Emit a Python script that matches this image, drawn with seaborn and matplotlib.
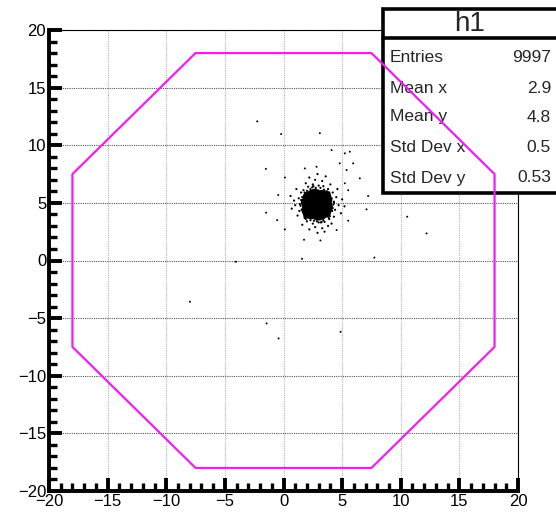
#h1 scatter with octagon cut

import matplotlib.pyplot as plt
from matplotlib.patches import Rectangle
from matplotlib.ticker import MultipleLocator
import seaborn as sns

# -----------------------------------------
# Data
# -----------------------------------------

# dense core of the cluster (around mean x 2.9, mean y 4.8)
core_x = [2.85, 2.4, 3.3, 2.6, 3.1, 2.6, 3.1, 2.05, 3.65, 2.2, 3.5, 2.2, 3.5,
          2.85, 2.85, 2.4, 3.3, 2.4, 3.3, 1.95, 3.75, 2.0, 3.7, 2.65, 3.05,
          2.75, 2.95, 3.6, 2.1, 3.6, 2.1, 2.9]
core_y = [4.85, 4.9, 4.8, 5.3, 5.35, 4.4, 4.35, 4.7, 4.95, 5.25, 5.35, 4.35, 4.4,
          5.7, 4.0, 5.65, 5.65, 4.05, 4.05, 5.05, 4.6, 4.4, 5.25, 5.75, 3.95,
          4.6, 5.1, 4.2, 5.5, 5.6, 4.1, 3.95]

# sparse halo round the core
halo_x = [2.1, 2.5, 3.0, 3.4, 3.8, 1.7, 2.7, 3.3, 1.9, 4.0, 2.2, 3.6, 2.9,
          4.3, 4.5, 4.4, 4.7, 4.2, 4.6, 5.0, 4.9, 4.3, 5.2,
          2.0, 2.5, 3.0, 3.5, 3.9, 1.8, 2.7, 3.3, 2.2, 3.8, 2.9, 4.1, 1.6, 3.5,
          1.4, 1.3, 1.35, 1.0, 1.5, 0.9, 1.2, 0.7, 1.1, 0.6,
          1.8, 3.9, 1.8, 3.95, 1.6, 4.1, 1.55, 4.15, 2.3, 3.45, 2.3, 3.4,
          2.75, 2.85, 4.25, 1.45, 1.7, 4.05, 2.45, 3.25, 1.65, 4.2, 2.6, 3.15,
          1.5, 4.3, 2.0, 3.7, 1.9, 3.85, 2.55, 3.2]
halo_y = [6.4, 6.6, 6.5, 6.45, 6.2, 6.1, 7.0, 6.9, 6.7, 6.6, 7.2, 7.3, 7.5,
          5.0, 5.5, 4.4, 4.8, 5.9, 6.2, 5.3, 4.1, 3.8, 4.7,
          3.4, 3.2, 3.3, 3.35, 3.6, 3.7, 2.9, 2.8, 2.7, 3.0, 2.4, 3.2, 3.1, 2.5,
          4.9, 5.4, 4.3, 4.8, 5.9, 5.2, 3.9, 4.5, 6.2, 5.6,
          5.9, 5.9, 3.8, 3.85, 5.5, 5.4, 4.4, 4.3, 6.2, 6.15, 3.5, 3.5,
          6.3, 3.4, 4.85, 4.75, 5.1, 5.15, 6.35, 3.35, 4.2, 4.55, 3.45, 6.3,
          5.25, 5.1, 6.05, 6.0, 3.6, 3.7, 6.45, 3.3]

# isolated points further out
out_x = [-2.24, -0.2, 3.1, 4.1, 5.23, 5.66, 5.94, 6.51, 7.22, 7.08, 10.55, 12.2,
         5.52, 7.75, 1.58, -4.06, -7.98, -1.44, -0.42, 4.87, -1.5, 0.12, -1.48,
         -0.54, 0.12, 1.75, 3.15, 4.53, 1.82, 2.82, 4.8, 5.38, 5.23, 5.52, -0.45]
out_y = [12.07, 10.97, 11.05, 9.58, 9.3, 9.44, 8.43, 7.13, 5.59, 4.44, 3.8, 2.35,
         3.45, 0.25, 0.15, -0.11, -3.58, -5.46, -6.76, -6.19, 7.95, 7.2, 4.15,
         3.5, 2.7, 1.8, 1.74, 2.64, 7.99, 8.13, 8.43, 7.85, 6.7, 6.1, 5.68]

# octagon (closed)
oct_x = [-7.5, 7.5, 18, 18, 7.5, -7.5, -18, -18, -7.5]
oct_y = [18, 18, 7.5, -7.5, -18, -18, -7.5, 7.5, 18]

# stats box
stat_title = "h1"
stat_names = ["Entries", "Mean x", "Mean y", "Std Dev x", "Std Dev y"]
stat_values = ["9997", "2.9", "4.8", "0.5", "0.53"]

# -----------------------------------------
# Plot
# -----------------------------------------

sns.set_style("white")
plt.rcParams["font.family"] = ["Liberation Sans", "DejaVu Sans"]

W, H = 556, 514
fig = plt.figure(figsize=(W / 100, H / 100), dpi=100)
ax = fig.add_axes([49 / W, 1 - 491 / H, (518 - 49) / W, (491 - 30) / H])

sns.scatterplot(x=core_x, y=core_y, s=62, color="black", edgecolor="none",
                linewidth=0, ax=ax, zorder=2)
sns.scatterplot(x=halo_x, y=halo_y, s=2.5, color="black", edgecolor="none",
                linewidth=0, ax=ax, zorder=2)
sns.scatterplot(x=out_x, y=out_y, s=2.0, color="black", edgecolor="none",
                linewidth=0, ax=ax, zorder=2)

sns.lineplot(x=oct_x, y=oct_y, sort=False, estimator=None, color="#f01ef0",
             linewidth=1.6, ax=ax, zorder=6)

ax.set_xlim(-20, 20)
ax.set_ylim(-20, 20)
ax.xaxis.set_major_locator(MultipleLocator(5))
ax.yaxis.set_major_locator(MultipleLocator(5))
ax.xaxis.set_minor_locator(MultipleLocator(1))
ax.yaxis.set_minor_locator(MultipleLocator(1))

ax.tick_params(which="both", bottom=True, left=True, top=False, right=False)
ax.tick_params(which="major", direction="in", length=9.5, width=2.8,
               labelsize=12, pad=2, color="black", labelcolor="black")
ax.tick_params(which="minor", direction="in", length=5.5, width=2.4,
               color="black")

# grid: horizontal lines darker than vertical ones
ax.xaxis.grid(True, which="major", color="#b0b0b0", linestyle=(0, (1, 1)),
              linewidth=0.8)
ax.yaxis.grid(True, which="major", color="#555555", linestyle=(0, (1, 1)),
              linewidth=0.8)
ax.set_axisbelow(True)

for side in ["left", "bottom"]:
    ax.spines[side].set_linewidth(2.8)
for side in ["top", "right"]:
    ax.spines[side].set_linewidth(0.8)
for sp in ax.spines.values():
    sp.set_color("black")

ax.set_xlabel("")
ax.set_ylabel("")

# -----------------------------------------
# Stats box (figure coordinates, drawn under the octagon)
# -----------------------------------------

def fx(px):
    return px / W

def fy(py):
    return 1 - py / H

box = Rectangle((fx(383), fy(193)), fx(W + 10) - fx(383), fy(9) - fy(193),
                transform=fig.transFigure, facecolor="white",
                edgecolor="black", linewidth=2.6, clip_on=False, zorder=4)
ax.add_patch(box)
ax.plot([fx(383), fx(W + 10)], [fy(38), fy(38)], transform=fig.transFigure,
        color="black", linewidth=2.6, clip_on=False, zorder=4.5)

ax.text(fx(470), fy(24), stat_title, transform=fig.transFigure,
        ha="center", va="center", fontsize=20, zorder=5)

row_y = [57, 88, 117, 148, 178]
for name, val, py in zip(stat_names, stat_values, row_y):
    ax.text(fx(390), fy(py), name, transform=fig.transFigure,
            ha="left", va="center", fontsize=12.5, zorder=5)
    ax.text(fx(551), fy(py), val, transform=fig.transFigure,
            ha="right", va="center", fontsize=12.5, zorder=5)

fig.savefig("out.png", dpi=100)
